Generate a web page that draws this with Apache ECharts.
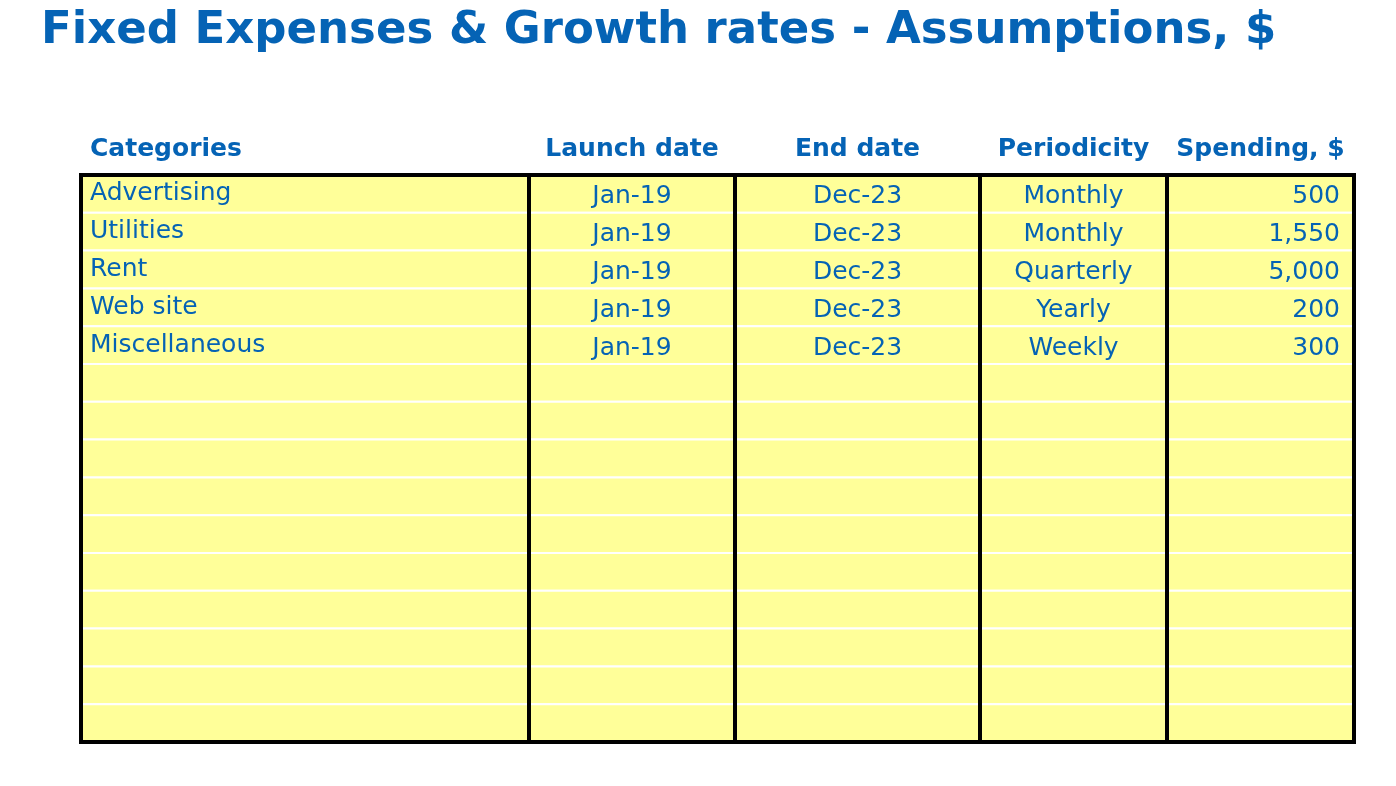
<!DOCTYPE html>
<html><head><meta charset="utf-8">
<script src="https://cdn.jsdelivr.net/npm/echarts@6/dist/echarts.min.js"></script>
<style>html,body{margin:0;padding:0;background:#fff}#c{width:1396px;height:786px}</style>
</head><body><div id="c"></div>
<script>
const title = 'Fixed Expenses & Growth rates - Assumptions, $';
const headers = ['Categories','Launch date','End date','Periodicity','Spending, $'];
const categories = ['Advertising','Utilities','Rent','Web site','Miscellaneous'];
const launchDates = ['Jan-19','Jan-19','Jan-19','Jan-19','Jan-19'];
const endDates = ['Dec-23','Dec-23','Dec-23','Dec-23','Dec-23'];
const periodicity = ['Monthly','Monthly','Quarterly','Yearly','Weekly'];
const spending = [500,1550,5000,200,300];
const totalRows = 15;
const colEdges = [0,448,654,899,1086,1273];
const aligns = ['left','center','center','center','right'];
const blue = '#0563B5';

const columns = [categories, launchDates, endDates, periodicity, spending.map(v=>v.toLocaleString('en-US'))];
const data = [];
for (let c=0;c<5;c++){
  data.push([c,-1,headers[c],1]);
  for (let r=0;r<totalRows;r++) data.push([c,r,r<columns[c].length?columns[c][r]:'',0]);
}
const chart = echarts.init(document.getElementById('c'));
chart.setOption({
  animation:false,
  title:{text:title,left:36,top:4,textStyle:{color:blue,fontSize:45,fontWeight:'bold',fontFamily:'DejaVu Sans'}},
  grid:{left:81,right:42,top:175,bottom:44},
  xAxis:{type:'value',min:0,max:colEdges[5],show:false},
  yAxis:{type:'value',min:0,max:totalRows,inverse:true,show:false},
  series:[{
    type:'custom',data:data,clip:false,
    renderItem:function(params,api){
      const c=api.value(0), r=api.value(1), txt=data[params.dataIndex][2], hdr=api.value(3);
      const p0=api.coord([colEdges[c],r]), p1=api.coord([colEdges[c+1],r+1]);
      const children=[];
      if(!hdr){
        children.push({type:'rect',shape:{x:p0[0],y:p0[1],width:p1[0]-p0[0],height:p1[1]-p0[1]},style:{fill:'#FFFF99',stroke:'#FFFFFF',lineWidth:2}});
      }
      let x, align=aligns[c];
      if(hdr){align=c===0?'left':'center';}
      if(align==='left') x=p0[0]+9; else if(align==='right') x=p1[0]-14; else x=(p0[0]+p1[0])/2;
      const y=(p0[1]+p1[1])/2 + (hdr?-7:(c===0?0:3));
      children.push({type:'text',style:{text:txt,x:x,y:y,align:align,verticalAlign:'middle',fill:blue,
        fontSize:hdr?25:25,fontWeight:hdr?'bold':'normal',fontFamily:'DejaVu Sans'}});
      if(!hdr && r===0){
        const b1=api.coord([colEdges[c+1],totalRows]);
        children.push({type:'rect',z2:10,shape:{x:p0[0],y:p0[1],width:b1[0]-p0[0],height:b1[1]-p0[1]},style:{fill:null,stroke:'#000',lineWidth:4}});
      }
      return {type:'group',children:children};
    }
  }]
});
</script></body></html>
